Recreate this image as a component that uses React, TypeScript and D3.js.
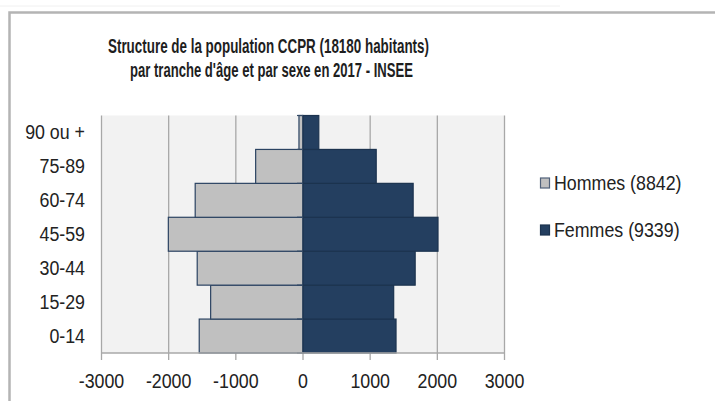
import React from "react";
import * as d3 from "d3";

const categories = ["0-14", "15-29", "30-44", "45-59", "60-74", "75-89", "90 ou +"];
const hommes = [1545, 1375, 1575, 2005, 1605, 705, 60];
const femmes = [1385, 1350, 1670, 2010, 1640, 1090, 235];
const xTicks = [-3000, -2000, -1000, 0, 1000, 2000, 3000];
const titleLines = [
  "Structure de la population CCPR (18180 habitants)",
  "par tranche d'âge et par sexe en 2017 - INSEE",
];
const legendLabels = ["Hommes (8842)", "Femmes (9339)"];

const W = 715;
const H = 401;
const PL = 101.5;
const PR = 504.5;
const PT = 115.5;
const PB = 353;

const menFill = "#c0c0c0";
const womenFill = "#243f60";
const edge = "#2b4362";
const SX = 0.89;

export default function App() {
  const x = d3.scaleLinear().domain([-3000, 3000]).range([PL, PR]);
  const y = d3
    .scaleBand<string>()
    .domain([...categories].reverse())
    .range([PT, PB])
    .padding(0);
  const font = "Arial, 'Liberation Sans', Helvetica, sans-serif";

  return (
    <svg
      width={W}
      height={H}
      style={{ position: "absolute", left: 0, top: 0, background: "#fff" }}
      fontFamily={font}
    >
      <rect x={0} y={0} width={W} height={H} fill="#fff" />
      <line x1={0} x2={560} y1={6} y2={6} stroke="#f0f0f0" strokeWidth={1} />
      <rect
        x={9.5}
        y={12.5}
        width={W + 20}
        height={H + 20}
        fill="none"
        stroke="#b4b4b4"
        strokeWidth={2.5}
      />
      {/* title */}
      <text
        x={268.5}
        y={53}
        textAnchor="middle"
        fontSize={19.5}
        fontWeight="bold"
        fill="#1e1e1e"
        textLength={321}
        lengthAdjust="spacingAndGlyphs"
      >
        {titleLines[0]}
      </text>
      <text
        x={271.5}
        y={77}
        textAnchor="middle"
        fontSize={19.5}
        fontWeight="bold"
        fill="#1e1e1e"
        textLength={283}
        lengthAdjust="spacingAndGlyphs"
      >
        {titleLines[1]}
      </text>

      {/* plot background */}
      <rect x={PL} y={PT} width={PR - PL} height={PB - PT} fill="#f2f2f2" />
      {/* gridlines */}
      {xTicks.map((t) => (
        <line
          key={"g" + t}
          x1={x(t)}
          x2={x(t)}
          y1={PT}
          y2={PB + 7}
          stroke="#a8a8a8"
          strokeWidth={1.3}
        />
      ))}
      {/* bars */}
      {categories.map((c, i) => (
        <g key={c}>
          <rect
            x={x(-hommes[i])}
            y={y(c)!}
            width={x(0) - x(-hommes[i])}
            height={y.bandwidth()}
            fill={menFill}
            stroke={edge}
            strokeWidth={1.2}
          />
          <rect
            x={x(0)}
            y={y(c)!}
            width={x(femmes[i]) - x(0)}
            height={y.bandwidth()}
            fill={womenFill}
            stroke="#1c334f"
            strokeWidth={1.2}
          />
        </g>
      ))}
      {/* category ticks at zero axis */}
      {[...categories, ""].map((c, i) => {
        const yy = PT + i * y.bandwidth();
        return (
          <line
            key={"t" + i}
            x1={x(0) - 6}
            x2={x(0)}
            y1={yy}
            y2={yy}
            stroke="#334a66"
            strokeWidth={1.2}
          />
        );
      })}
      {/* x axis line */}
      <line x1={PL} x2={PR} y1={PB} y2={PB} stroke="#a8a8a8" strokeWidth={1.5} />
      {xTicks.map((t) => (
        <text
          key={"l" + t}
          transform={`translate(${x(t)}, 388) scale(${SX}, 1)`}
          textAnchor="middle"
          fontSize={20}
          fill="#222"
        >
          {t}
        </text>
      ))}
      {/* category labels */}
      {categories.map((c) => (
        <text
          key={"c" + c}
          transform={`translate(85, ${y(c)! + y.bandwidth() / 2 + 7}) scale(${SX}, 1)`}
          textAnchor="end"
          fontSize={20}
          fill="#222"
        >
          {c}
        </text>
      ))}
      {/* legend */}
      {legendLabels.map((l, i) => (
        <g key={l} transform={`translate(540, ${183 + i * 47})`}>
          <rect
            x={0.5}
            y={-5}
            width={9}
            height={10}
            fill={i === 0 ? menFill : womenFill}
            stroke={i === 0 ? "#50617a" : "#1c334f"}
            strokeWidth={1.2}
          />
          <text
            transform={`translate(14, 7) scale(${SX}, 1)`}
            fontSize={20}
            fill="#222"
          >
            {l}
          </text>
        </g>
      ))}
    </svg>
  );
}
